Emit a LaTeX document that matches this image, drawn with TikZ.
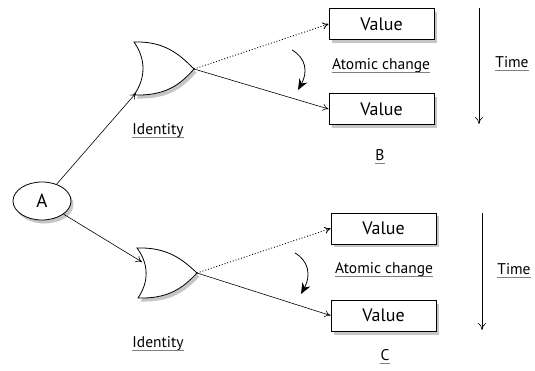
\documentclass[tikz,border=0pt]{standalone}
\usepackage{fontspec}
\setmainfont{PT Sans}
\usetikzlibrary{shapes.geometric,shadows,arrows.meta}
\newcommand{\gul}[1]{\tikz[baseline=(t.base)]{\node[inner sep=0pt] (t) {#1};\draw[gray,line width=1.1pt] ([yshift=-2.5pt]t.base west) -- ([yshift=-2.5pt]t.base east);}}
\begin{document}
\begin{tikzpicture}[x=1pt,y=-1pt,
  shad/.style={drop shadow={shadow xshift=2.5pt,shadow yshift=-3.5pt,opacity=0.45,fill=gray}},
  valbox/.style={draw,fill=white,line width=0.9pt,minimum width=105pt,minimum height=31pt,inner sep=0pt,font=\fontsize{18}{18}\selectfont,shad},
  lbl/.style={font=\fontsize{15.5}{16}\selectfont,inner sep=0pt},
  conn/.style={line width=0.6pt,-{To[length=6pt,width=7pt]}},
  dconn/.style={line width=0.9pt,dotted,-{To[length=6pt,width=7pt]}},
  curv/.style={line width=0.8pt,-{Stealth[length=11pt,width=9pt]}},
  timearr/.style={line width=0.6pt,-{To[length=7pt,width=8pt]}},
  gate/.style={draw,fill=white,line width=0.8pt,shad}
]
\useasboundingbox (0,0) rectangle (535,371);

% A
\node[ellipse,draw,fill=white,line width=0.8pt,minimum width=58pt,minimum height=38pt,inner sep=0pt,font=\fontsize{19}{19}\selectfont,shad] (A) at (42,201) {A};

% top gate
\path[gate] (134,42) .. controls (165,41) and (180,55) .. (194,69)
  .. controls (180,85) and (165,96) .. (134,95)
  .. controls (146,78) and (146,59) .. (134,42) -- cycle;
\coordinate (g1in) at (136,93);
\coordinate (g1out) at (194,69);

% bottom gate
\path[gate] (137,248) .. controls (168,247) and (183,260) .. (197,273)
  .. controls (183,288) and (168,299) .. (138,298)
  .. controls (149,282) and (149,264) .. (137,248) -- cycle;
\coordinate (g2in) at (142,262);
\coordinate (g2out) at (197,273);

% boxes
\node[valbox] (v1) at (381.5,24) {Value};
\node[valbox] (v2) at (381.5,109) {Value};
\node[valbox] (v3) at (383.5,228.5) {Value};
\node[valbox] (v4) at (383.5,315.5) {Value};

% labels
\node[lbl] (id1) at (158,131) {\gul{Identity}};
\node[lbl] (id2) at (158,344) {\gul{Identity}};
\node[lbl] (ac1) at (381,66) {\gul{Atomic change}};
\node[lbl] (ac2) at (384,270) {\gul{Atomic change}};
\node[lbl] (t1) at (512,64) {\gul{Time}};
\node[lbl] (t2) at (514,271) {\gul{Time}};
\node[lbl] (B) at (380,157) {\gul{B}};
\node[lbl] (C) at (385,357) {\gul{C}};

% connectors
\draw[conn] (A) -- (g1in);
\draw[conn] (A) -- (g2in);
\draw[dconn] (g1out) -- (v1.west);
\draw[conn] (g1out) -- (v2.west);
\draw[dconn] (g2out) -- (v3.west);
\draw[conn] (g2out) -- (v4.west);

% curved arrows
\coordinate (c1s) at (292,50);
\coordinate (c1e) at (298,90);
\draw[curv] (c1s) .. controls (306,58) and (308,72) .. (c1e);
\coordinate (c2s) at (295,253);
\coordinate (c2e) at (301,294);
\draw[curv] (c2s) .. controls (309,261) and (311,276) .. (c2e);

% time arrows
\coordinate (ts1) at (479,8);
\coordinate (te1) at (479,124);
\draw[timearr] (ts1) -- (te1);
\coordinate (ts2) at (482,213);
\coordinate (te2) at (482,330);
\draw[timearr] (ts2) -- (te2);
\end{tikzpicture}
\end{document}
